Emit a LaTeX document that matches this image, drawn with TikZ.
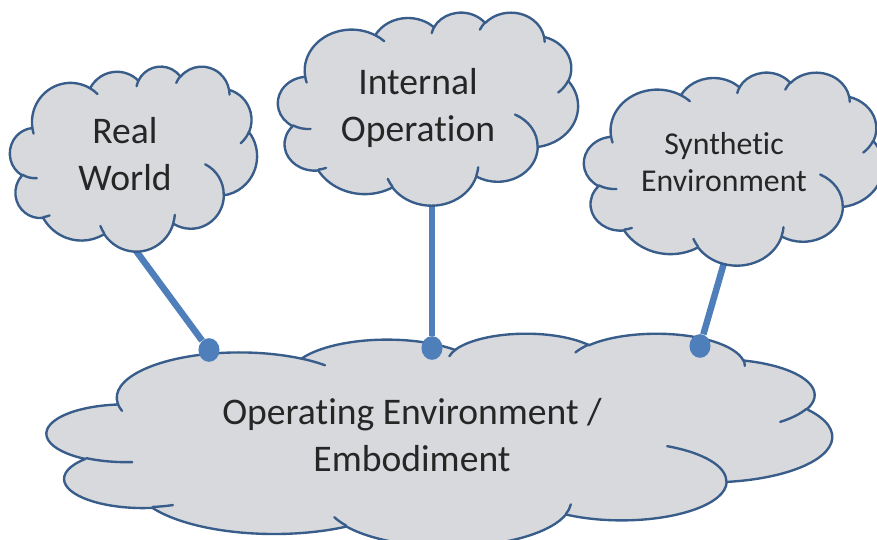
\documentclass[tikz,border=0pt]{standalone}
\usepackage{fontspec}
\setmainfont{Carlito}[Ligatures=NoCommon]
\usetikzlibrary{shapes.geometric}

\definecolor{cloudline}{RGB}{56,93,138}
\definecolor{cloudfill}{RGB}{216,217,220}
\definecolor{linkblue}{RGB}{79,127,187}
\definecolor{inkgray}{RGB}{38,38,38}

% one lobe of a cloud: x radius, y radius, start and sweep (angles seen from the centre)
\newcommand{\cloudarc}[4]{arc[start angle={atan2((#1)*sin(#3),(#2)*cos(#3))},
  delta angle={mod(atan2((#1)*sin((#3)+(#4)),(#2)*cos((#3)+(#4)))-atan2((#1)*sin(#3),(#2)*cos(#3))+720,360)},
  x radius=#1, y radius=#2]}

% cloud in a 43.2 x 43.2 box
\newcommand{\cloudoutline}{(3.9,14.37)
  \cloudarc{6.753}{9.19}{-190.4875}{123.7805}
  \cloudarc{5.333}{7.267}{-144.1024}{89.9452}
  \cloudarc{4.365}{5.945}{-145.8079}{99.723}
  \cloudarc{4.857}{6.595}{-130.9861}{117.2417}
  \cloudarc{5.333}{7.273}{-78.7089}{109.0269}
  \cloudarc{6.775}{9.22}{-46.2673}{130.269}
  \cloudarc{5.785}{7.867}{0.625}{114.0333}
  \cloudarc{6.752}{9.215}{22.4516}{115.1726}
  \cloudarc{7.72}{10.543}{66.2426}{75.711}
  \cloudarc{4.36}{5.918}{-274.9421}{146.7356}
  \cloudarc{4.345}{5.945}{-246.8285}{152.5189} -- cycle}

\newcommand{\cloudcreases}{(4.693,26.177) \cloudarc{4.345}{5.945}{86.742}{26.4295}
  (6.928,34.899) \cloudarc{4.36}{5.918}{73.6105}{11.4475}
  (16.478,39.09) \cloudarc{6.752}{9.215}{137.6242}{14.0811}
  (28.827,34.751) \cloudarc{6.752}{9.215}{6.4533}{15.9984}
  (34.129,22.954) \cloudarc{5.785}{7.867}{-70.2924}{70.9174}
  (41.798,15.354) \cloudarc{5.333}{7.273}{30.318}{27.7515}
  (38.324,5.426) \cloudarc{4.857}{6.595}{-13.7443}{14.8589}
  (29.078,3.952) \cloudarc{4.857}{6.595}{-149.1815}{18.1954}
  (22.141,4.72) \cloudarc{4.365}{5.945}{-163.4943}{17.6864}
  (14,5.192) \cloudarc{6.753}{9.19}{-66.707}{12.3194}
  (4.127,15.789) \cloudarc{6.753}{9.19}{157.6544}{11.8582}}

% left, top, width, height
\newcommand{\drawcloud}[4]{%
  \begin{scope}[shift={(#1,#2)},xscale=#3/43.2,yscale=#4/43.2]
    \path[puff] \cloudoutline;
    \path[crease] \cloudcreases;
  \end{scope}}

\begin{document}
\begin{tikzpicture}[x=0.02cm,y=-0.02cm,
  puff/.style={draw=cloudline,fill=cloudfill,line width=1.35pt,line join=round},
  crease/.style={draw=cloudline,line width=1.35pt,line cap=round},
  link/.style={draw=linkblue,line width=3.7pt},
  joint/.style={ellipse,fill=linkblue,inner sep=0pt,minimum width=12pt,minimum height=13.5pt},
  cloudtext/.style={text=inkgray,align=center,font=\fontsize{21.4}{26.5}\selectfont}]
  \useasboundingbox (0,0) rectangle (877,540);
  \clip (0,0) rectangle (877,540);

  % operating environment
  \drawcloud{47}{333}{785}{213}
  \node[joint] (jrw) at (209,350) {};
  \node[joint] (jio) at (432,348) {};
  \node[joint] (jse) at (700,346) {};

  \coordinate (rwfoot) at (131,244);
  \coordinate (iofoot) at (432,198);
  \coordinate (sefoot) at (726,256);
  \draw[link] (rwfoot) -- (jrw);
  \draw[link] (iofoot) -- (jio);
  \draw[link] (sefoot) -- (jse);

  \drawcloud{10}{66}{247}{185}
  \drawcloud{278}{12}{300}{193}
  \drawcloud{584}{72}{299}{193}

  \node[cloudtext] (realworld) at (125,154) {Real\\World};
  \node[cloudtext] (internal) at (418,108) {Internal\\Operation};
  \node[cloudtext,font=\fontsize{18.1}{21.5}\selectfont] (synthetic) at (724,162)
    {Synthetic\\Environment};
  \node[cloudtext] (operating) at (412,435) {Operating Environment /\\Embodiment};
\end{tikzpicture}
\end{document}
